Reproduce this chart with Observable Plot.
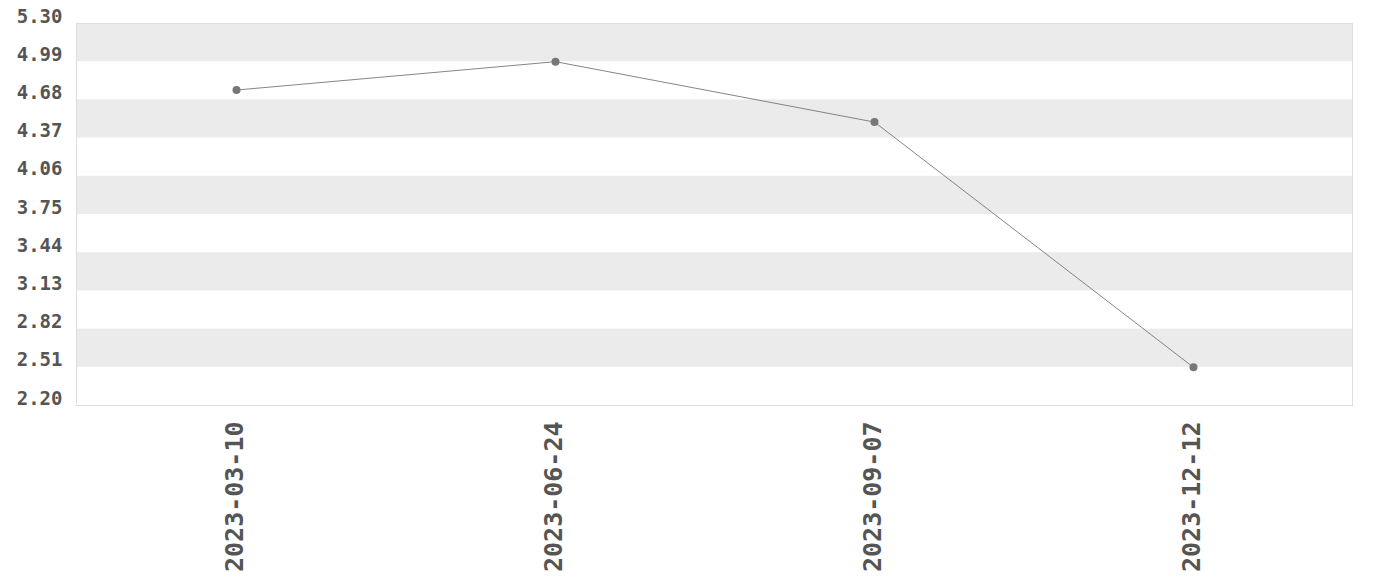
<!DOCTYPE html>
<html>
<head>
<meta charset="utf-8">
<script src="https://cdn.jsdelivr.net/npm/d3@7"></script>
<script src="https://cdn.jsdelivr.net/npm/@observablehq/plot@0.6"></script>
<style>
  body { margin: 0; background: #fff; }
  #chart svg { display: block; }
</style>
</head>
<body>
<div id="chart"></div>
<script>
const dates = ["2023-03-10", "2023-06-24", "2023-09-07", "2023-12-12"];
const values = [4.76, 4.99, 4.50, 2.51];
const yTicks = [2.20, 2.51, 2.82, 3.13, 3.44, 3.75, 4.06, 4.37, 4.68, 4.99, 5.30];

const data = dates.map((d, i) => ({date: d, value: values[i]}));
const bands = yTicks.slice(0, -1).map((t, i) => ({y1: t, y2: yTicks[i + 1], i}))
  .filter(b => (yTicks.length - 2 - b.i) % 2 === 0);

const chart = Plot.plot({
  width: 1380,
  height: 580,
  marginTop: 23,
  marginBottom: 175,
  marginLeft: 76,
  marginRight: 28,
  style: {fontFamily: "'DejaVu Sans Mono'", fontWeight: "bold", color: "#555", background: "#fff"},
  x: {type: "point", domain: dates, padding: 0.5, label: null},
  y: {domain: [2.20, 5.30], label: null},
  marks: [
    Plot.rect(bands, {y1: "y1", y2: "y2", fill: "#ebebeb"}),
    Plot.frame({stroke: "#dddddd", strokeWidth: 1}),
    Plot.axisY({ticks: yTicks, tickFormat: d => d.toFixed(2), tickSize: 0, tickPadding: 14, dy: -7, fontSize: 19, fill: "#555", fontWeight: "bold"}),
    Plot.axisX({tickSize: 0, tickPadding: 16, tickRotate: -90, fontSize: 25, fill: "#555", fontWeight: "bold", dx: -2}),
    Plot.line(data, {x: "date", y: "value", stroke: "#777", strokeWidth: 0.9}),
    Plot.dot(data, {x: "date", y: "value", r: 4, fill: "#777", stroke: "none"})
  ]
});
document.getElementById("chart").appendChild(chart);
</script>
</body>
</html>
